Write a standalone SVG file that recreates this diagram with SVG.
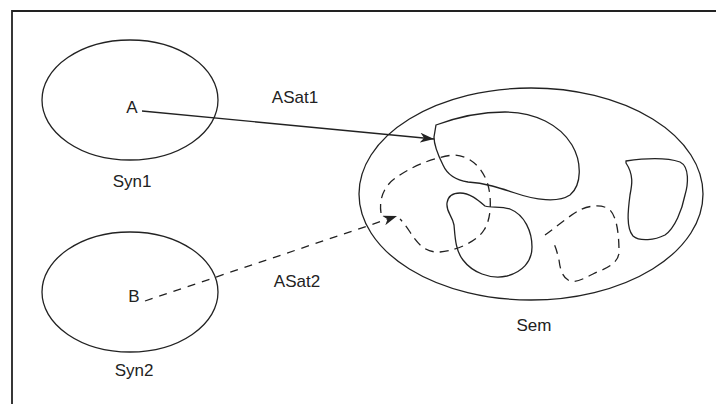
<svg xmlns="http://www.w3.org/2000/svg" width="716" height="404" viewBox="0 0 716 404">
<defs>
<style>
.ln{fill:none;stroke:#222;stroke-width:1.3}
.dash{fill:none;stroke:#222;stroke-width:1.3;stroke-dasharray:9 6}
.lbl{font-family:"Liberation Sans",Arial,sans-serif;font-size:17px;fill:#222;text-anchor:middle}
</style>
<marker id="ah" viewBox="0 0 14 10" refX="14" refY="5" markerWidth="14" markerHeight="10" markerUnits="userSpaceOnUse" orient="auto">
<path d="M0,0 L14,5 L0,10 L4,5 Z" fill="#222"/>
</marker>
</defs>
<rect width="716" height="404" fill="#fff"/>
<path d="M12,404 V11 H716" fill="none" stroke="#222" stroke-width="1.8"/>
<g id="syn1">
<ellipse class="ln" cx="130" cy="100" rx="88" ry="60"/>
<text class="lbl" x="132" y="113">A</text>
<text class="lbl" x="132" y="187">Syn1</text>
</g>
<g id="syn2">
<ellipse class="ln" cx="130" cy="292" rx="88" ry="60"/>
<text class="lbl" x="134" y="302">B</text>
<text class="lbl" x="134" y="376">Syn2</text>
</g>
<g id="sem">
<ellipse class="ln" cx="531" cy="194" rx="172" ry="106"/>
<path class="ln" d="M436,125 C455,118 480,112 505,112 C535,112 560,125 572,145 C582,162 582,185 570,195 C558,203 535,200 515,193 C500,188 485,183 468,182 C455,180 447,174 443,165 C438,155 434,145 434,137 Z"/>
<path class="ln" d="M460,193 C470,193 478,200 485,206 C492,208 500,206 510,209 C525,215 532,232 532,247 C532,262 522,272 507,276 C490,280 472,272 463,260 C455,250 455,235 454,225 C452,215 446,212 447,203 C448,196 453,193 460,193 Z"/>
<path class="ln" d="M626,161 C640,159 665,157 680,162 C690,167 688,185 685,195 C682,210 675,228 665,235 C655,240 640,242 633,236 C626,228 628,210 630,195 C632,185 634,175 626,163 Z"/>
<path class="dash" d="M381,213 C379,200 383,186 397,177 C410,168 430,158 453,155 C470,155 483,168 488,185 C492,200 491,220 484,230 C478,240 460,250 440,252 C425,253 417,243 410,232 C406,226 403,222 400,219"/>
<path class="dash" d="M545,235 C555,228 570,215 580,210 C590,205 603,204 610,210 C618,218 619,240 619,252 C619,262 608,268 597,272 C587,277 577,283 570,281 C562,278 560,268 559,260 C557,252 556,247 553,242"/>
<text class="lbl" x="534" y="331">Sem</text>
</g>
<g id="connectors">
<line class="ln" x1="142" y1="111" x2="434" y2="139" marker-end="url(#ah)"/>
<text class="lbl" x="295" y="103">ASat1</text>
<line class="ln" x1="145" y1="301" x2="397" y2="216" stroke-dasharray="8 7" marker-end="url(#ah)"/>
<text class="lbl" x="297" y="287">ASat2</text>
</g>
</svg>
